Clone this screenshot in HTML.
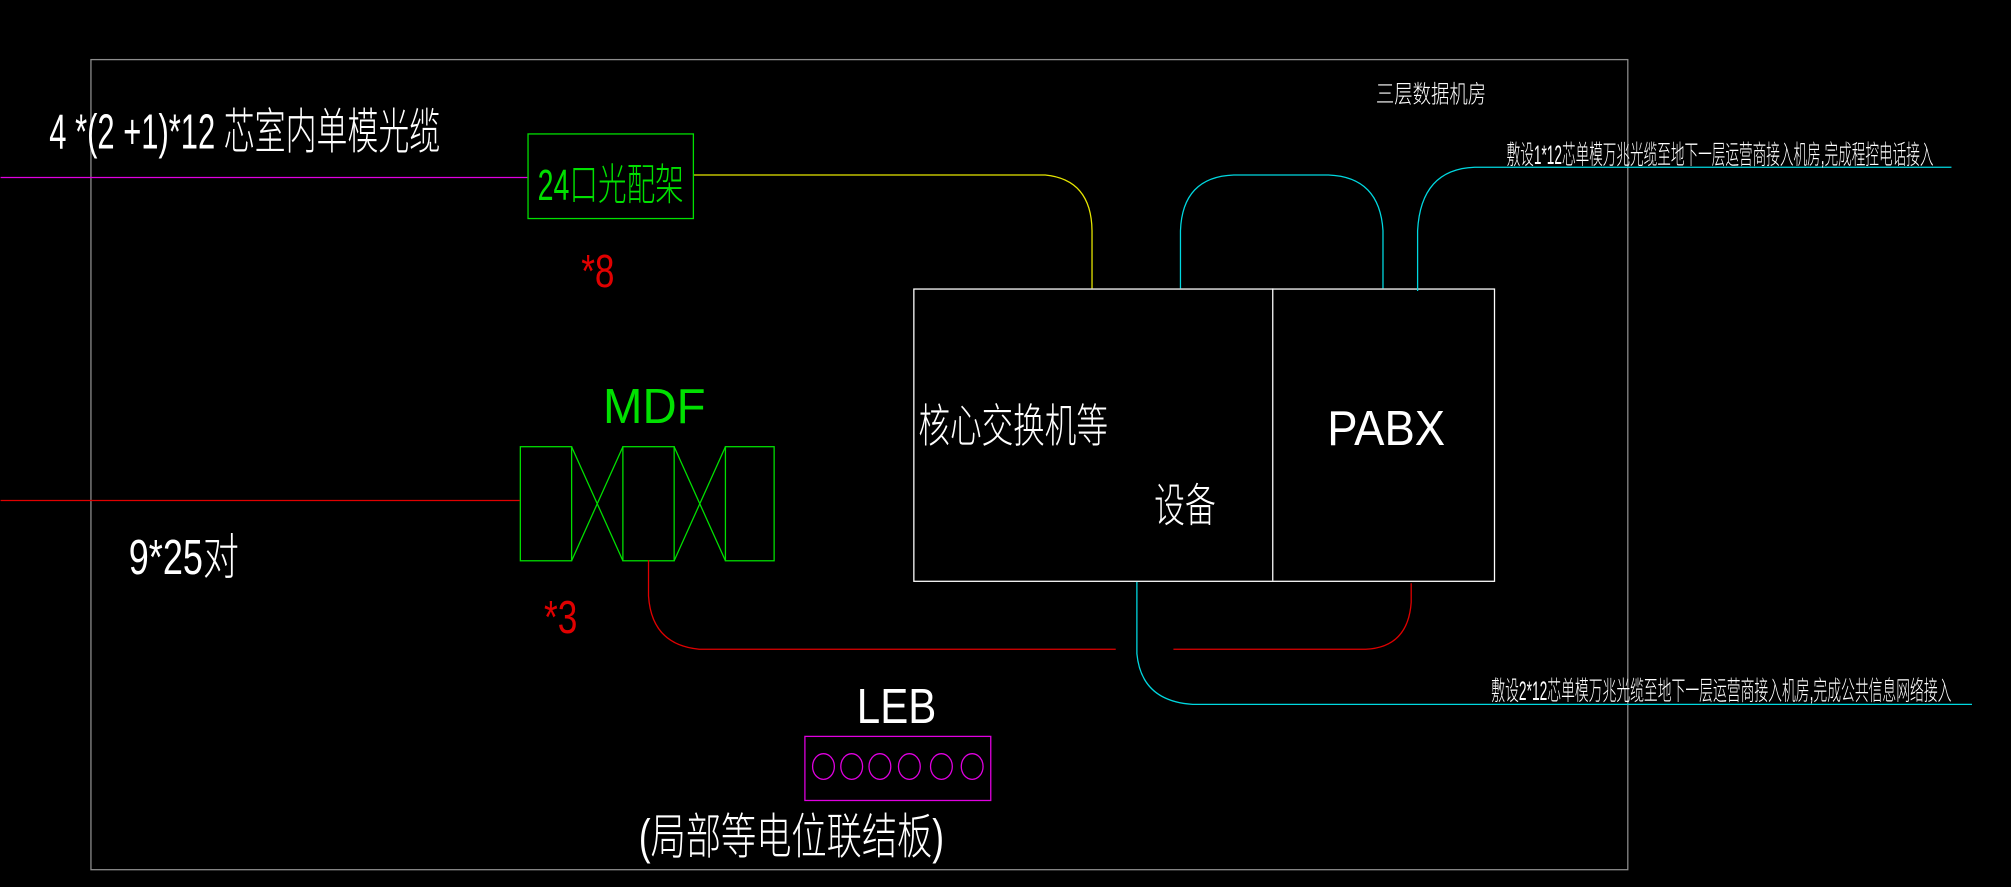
<!DOCTYPE html>
<html><head><meta charset="utf-8"><style>
html,body{margin:0;padding:0;background:#000;}
svg{display:block;}
text{font-family:"Liberation Sans","Noto Sans CJK SC",sans-serif;font-weight:300;}
</style></head><body>
<svg width="2011" height="887" viewBox="0 0 1568 692" xmlns="http://www.w3.org/2000/svg" fill="none" stroke-width="1">
<rect x="0" y="0" width="1568" height="692" fill="#000"/>
<rect x="70.5" y="46.5" width="1199" height="632" stroke="#8c8c8c"/>
<line x1="0" y1="138.5" x2="411" y2="138.5" stroke="#e000e0"/>
<rect x="411.5" y="104.5" width="129" height="66" stroke="#00e000"/>
<text x="419" y="156" font-size="34" fill="#00e000" textLength="114" lengthAdjust="spacingAndGlyphs">24口光配架</text>
<text x="453" y="224" font-size="36" fill="#e00000" textLength="26" lengthAdjust="spacingAndGlyphs">*8</text>
<path d="M541 136.5 H815 Q851 140 851.5 180 V225" stroke="#e6e600"/>
<text x="38" y="116" font-size="38" fill="#fff" textLength="305" lengthAdjust="spacingAndGlyphs">4 *(2 +1)*12 芯室内单模光缆</text>
<text x="470" y="330" font-size="38" fill="#00e000" textLength="80" lengthAdjust="spacingAndGlyphs">MDF</text>
<g stroke="#00e000">
<rect x="405.5" y="348.5" width="40" height="89"/>
<rect x="485.5" y="348.5" width="40" height="89"/>
<rect x="565.5" y="348.5" width="38" height="89"/>
<line x1="445.5" y1="348.5" x2="485.5" y2="437.5"/>
<line x1="445.5" y1="437.5" x2="485.5" y2="348.5"/>
<line x1="525.5" y1="348.5" x2="565.5" y2="437.5"/>
<line x1="525.5" y1="437.5" x2="565.5" y2="348.5"/>
</g>
<line x1="0" y1="390.5" x2="405" y2="390.5" stroke="#e00000"/>
<text x="100" y="448" font-size="38" fill="#fff" textLength="86" lengthAdjust="spacingAndGlyphs">9*25对</text>
<text x="424" y="494" font-size="36" fill="#e00000" textLength="26" lengthAdjust="spacingAndGlyphs">*3</text>
<path d="M505.5 437 V465 Q508 503 545 506.5 H870" stroke="#e00000"/>
<path d="M915 506.5 H1065 Q1098 505 1100.5 470 V455" stroke="#e00000"/>
<rect x="712.5" y="225.5" width="453" height="228" stroke="#fff"/>
<line x1="992.5" y1="225" x2="992.5" y2="453" stroke="#fff"/>
<text x="716" y="345" font-size="36" fill="#fff" textLength="148" lengthAdjust="spacingAndGlyphs">核心交换机等</text>
<text x="900" y="407" font-size="36" fill="#fff" textLength="48" lengthAdjust="spacingAndGlyphs">设备</text>
<text x="1035" y="347" font-size="38" fill="#fff" textLength="92" lengthAdjust="spacingAndGlyphs">PABX</text>
<g stroke="#00d8e0">
<path d="M920.5 225 V180 Q922 138 962 136.5 H1036 Q1076 138 1078.5 180 V225"/>
<path d="M1105.5 227 V180 Q1108 132 1150 130.5 H1522"/>
<path d="M886.5 454 V510 Q890 547 930 549.5 H1538"/>
</g>
<text x="1073" y="80" font-size="19" fill="#fff" textLength="86" lengthAdjust="spacingAndGlyphs">三层数据机房</text>
<text x="1175" y="128" font-size="21" fill="#fff" textLength="333" lengthAdjust="spacingAndGlyphs">敷设1*12芯单模万兆光缆至地下一层运营商接入机房,完成程控电话接入</text>
<text x="1163" y="546" font-size="21" fill="#fff" textLength="359" lengthAdjust="spacingAndGlyphs">敷设2*12芯单模万兆光缆至地下一层运营商接入机房,完成公共信息网络接入</text>
<text x="668" y="564" font-size="38" fill="#fff" textLength="62" lengthAdjust="spacingAndGlyphs">LEB</text>
<rect x="627.5" y="574.5" width="145" height="50" stroke="#e000e0"/>
<g stroke="#e000e0">
<ellipse cx="642" cy="598" rx="8.5" ry="10"/>
<ellipse cx="664" cy="598" rx="8.5" ry="10"/>
<ellipse cx="686" cy="598" rx="8.5" ry="10"/>
<ellipse cx="709" cy="598" rx="8.5" ry="10"/>
<ellipse cx="734" cy="598" rx="8.5" ry="10"/>
<ellipse cx="758" cy="598" rx="8.5" ry="10"/>
</g>
<text x="498" y="666" font-size="38" fill="#fff" textLength="238" lengthAdjust="spacingAndGlyphs">(局部等电位联结板)</text>
</svg>
</body></html>
